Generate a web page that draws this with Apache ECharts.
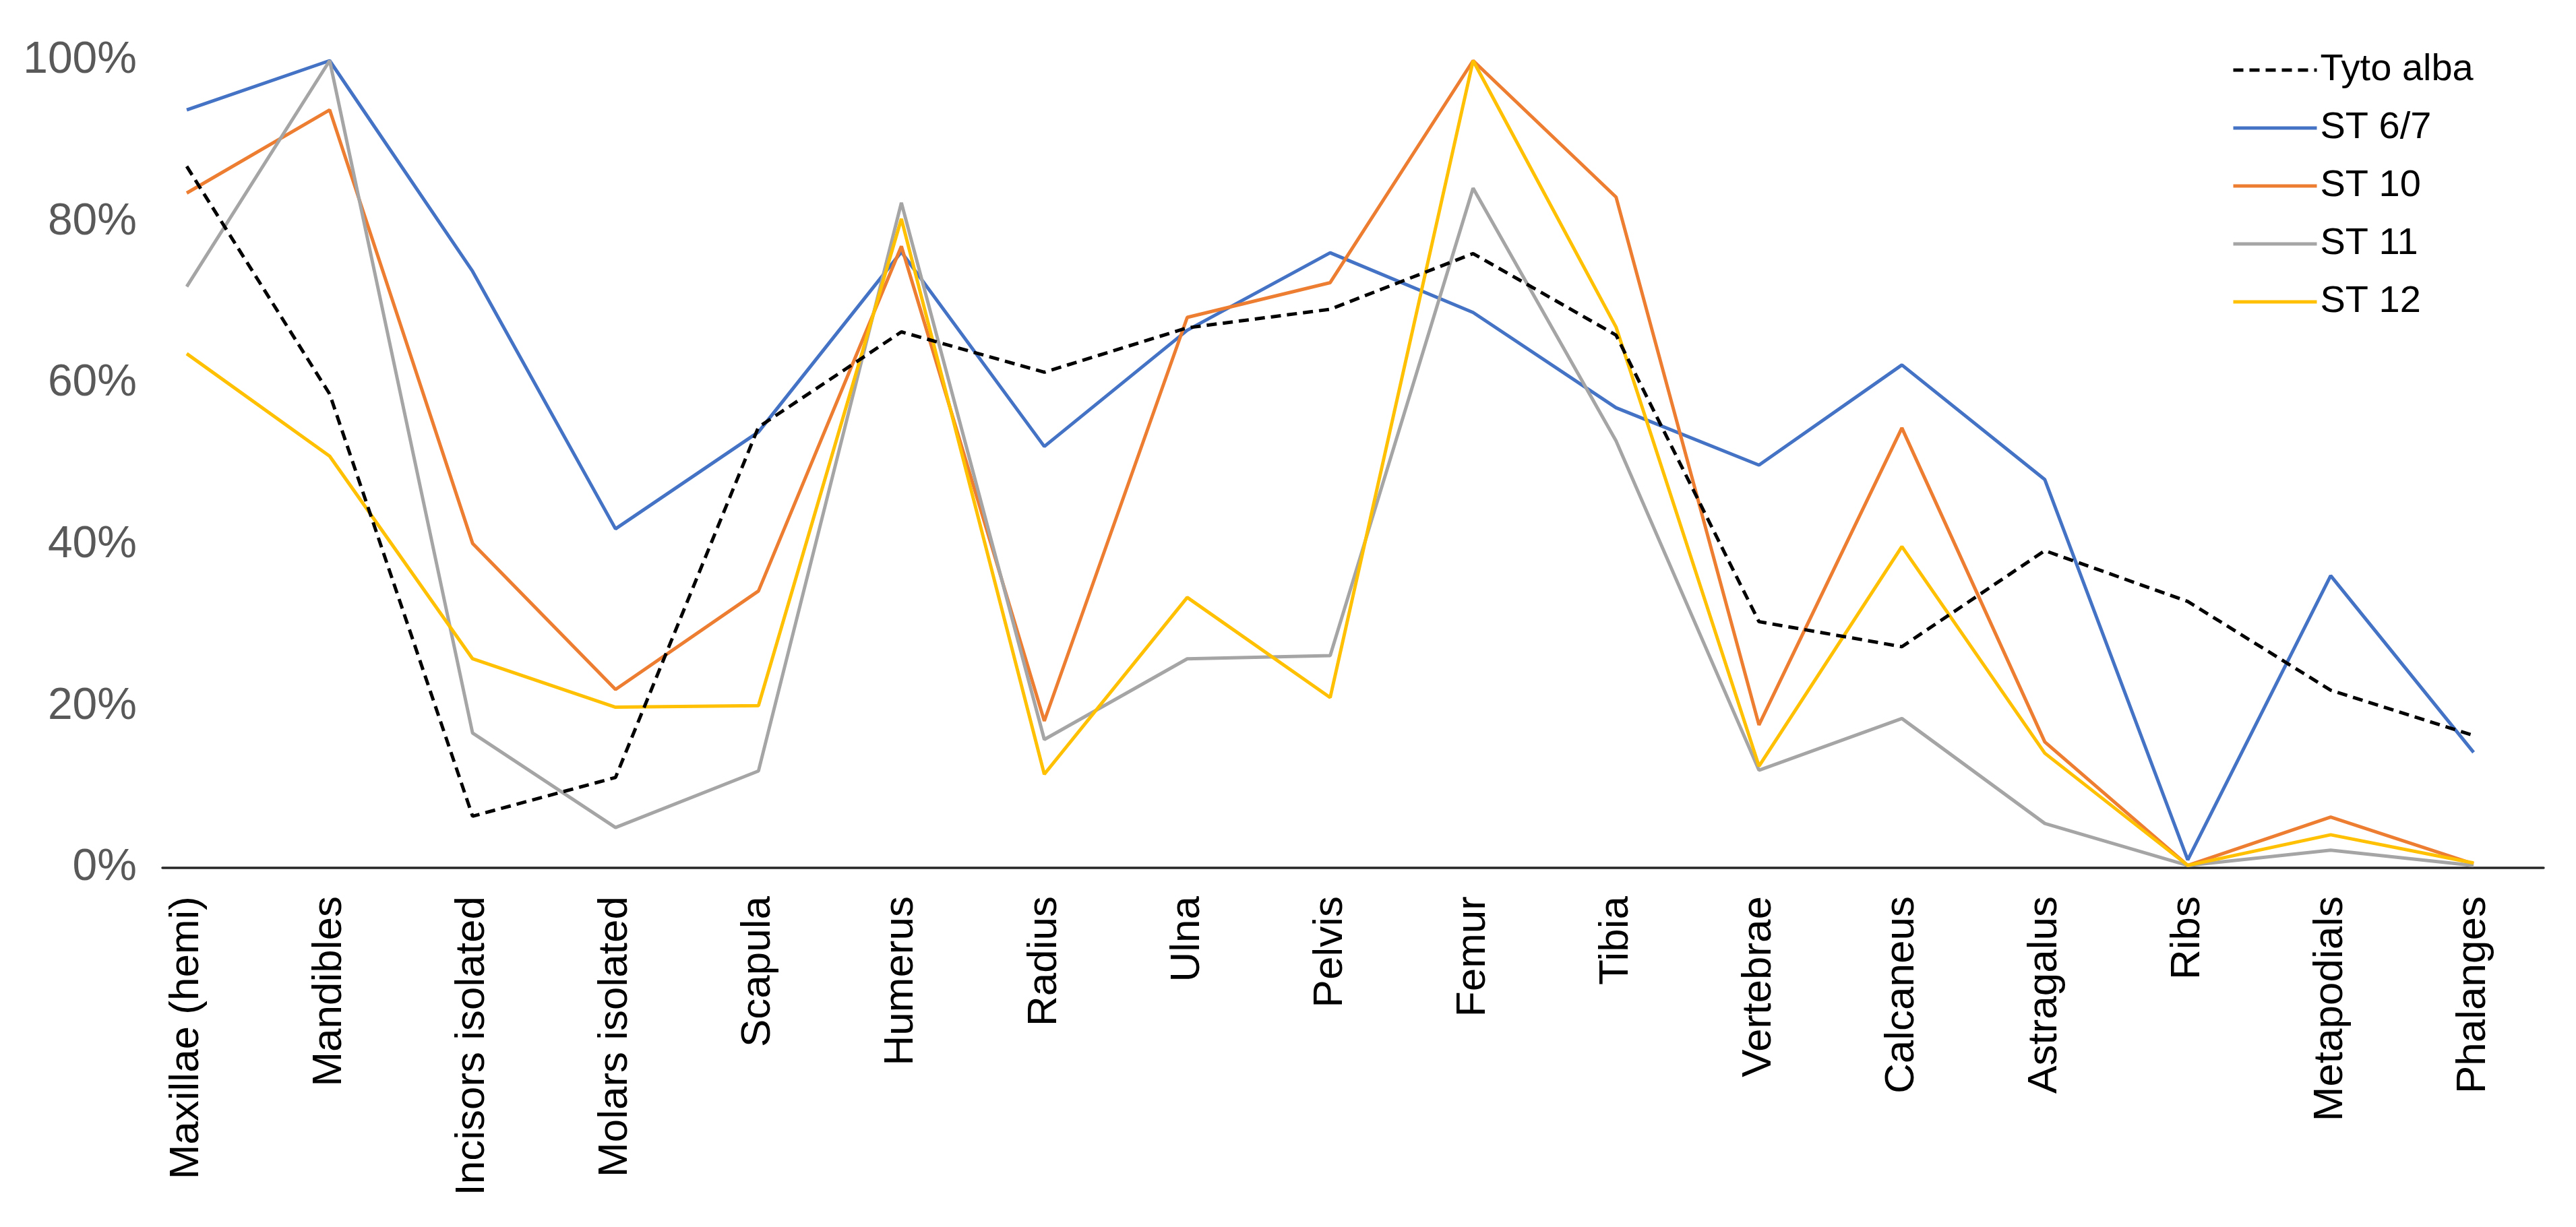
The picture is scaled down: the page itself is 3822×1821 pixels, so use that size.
<!DOCTYPE html>
<html>
<head>
<meta charset="utf-8">
<script src="https://cdn.jsdelivr.net/npm/echarts@6/dist/echarts.min.js"></script>
<style>
html,body{margin:0;padding:0;background:#fff;}
#chart{width:3822px;height:1821px;}
</style>
</head>
<body>
<div id="chart"></div>
<script>
const categories = ['Maxillae (hemi)','Mandibles','Incisors isolated','Molars isolated','Scapula','Humerus','Radius','Ulna','Pelvis','Femur','Tibia','Vertebrae','Calcaneus','Astragalus','Ribs','Metapodials','Phalanges'];
const yTicks = [0, 20, 40, 60, 80, 100];
const seriesNames = ['Tyto alba','ST 6/7','ST 10','ST 11','ST 12'];
const tytoAlba = [86.9, 58.7, 6.4, 11.2, 54.6, 66.4, 61.4, 66.9, 69.2, 76.1, 66.0, 30.5, 27.4, 39.3, 33.0, 22.0, 16.4];
const st67 = [93.9, 100, 73.9, 42.0, 54.0, 76.3, 52.2, 66.6, 76.2, 68.8, 57.0, 49.9, 62.3, 48.1, 1.0, 36.2, 14.3];
const st10 = [83.6, 93.9, 40.2, 22.1, 34.3, 77.0, 18.2, 68.2, 72.5, 100, 83.1, 17.7, 54.5, 15.6, 0.3, 6.3, 0.5];
const st11 = [72.0, 100, 16.7, 5.0, 12.0, 82.4, 15.9, 25.9, 26.3, 84.2, 52.9, 12.1, 18.5, 5.5, 0.3, 2.2, 0.3];
const st12 = [63.7, 51.0, 25.9, 19.9, 20.1, 80.4, 11.6, 33.5, 21.1, 100, 67.0, 12.6, 39.8, 14.2, 0.3, 4.1, 0.6];

const values = [tytoAlba, st67, st10, st11, st12];
const colors = ['#000000', '#4472C4', '#ED7D31', '#A5A5A5', '#FFC000'];
const font = "'Liberation Sans', Arial, sans-serif";

const chart = echarts.init(document.getElementById('chart'));
const series = seriesNames.map((name, i) => ({
  name: name,
  type: 'line',
  data: values[i].map((v, k) => [k, v]),
  symbol: 'none',
  showSymbol: false,
  smooth: false,
  z: i === 0 ? 10 : 2 + i,
  lineStyle: {
    color: colors[i],
    width: 5,
    type: i === 0 ? [15, 9] : 'solid'
  },
  itemStyle: { color: colors[i] },
  emphasis: { disabled: true }
}));

chart.setOption({
  animation: false,
  backgroundColor: '#ffffff',
  grid: { left: 241, right: 48, top: 90, bottom: 533, containLabel: false },
  legend: {
    orient: 'vertical',
    left: 3306,
    top: 68,
    itemWidth: 124,
    itemHeight: 14,
    itemGap: 24,
    data: seriesNames,
    itemStyle: { opacity: 0 },
    lineStyle: { width: 5 },
    textStyle: { fontFamily: font, fontSize: 56, color: '#000', lineHeight: 62 }
  },
  xAxis: {
    type: 'value',
    min: -0.17,
    max: 16.49,
    splitLine: { show: false },
    axisTick: { show: false },
    axisLine: { show: true, onZero: false, lineStyle: { color: '#262626', width: 3.5 } },
    axisLabel: {
      customValues: categories.map((c, k) => k),
      formatter: (v) => categories[Math.round(v)],
      rotate: 90,
      margin: 42,
      fontFamily: font,
      fontSize: 62,
      color: '#000'
    }
  },
  yAxis: {
    type: 'value',
    min: 0,
    max: 100,
    interval: 20,
    splitLine: { show: false },
    axisLine: { show: false },
    axisTick: { show: false },
    axisLabel: {
      customValues: yTicks,
      formatter: '{value}%',
      margin: 38,
      fontFamily: font,
      fontSize: 66,
      color: '#595959'
    }
  },
  series: series
});
</script>
</body>
</html>
